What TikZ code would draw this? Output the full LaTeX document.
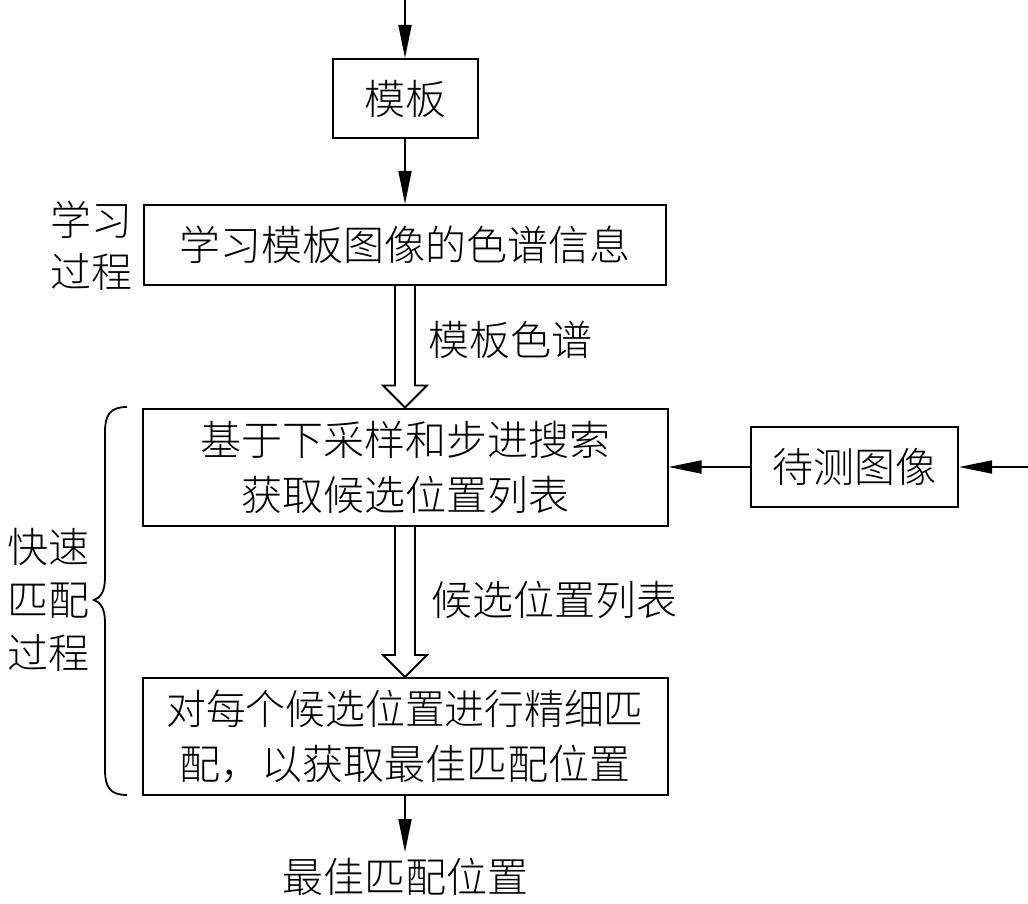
\documentclass[tikz,border=0pt]{standalone}
\usepackage{fontspec}
\setmainfont{Noto Sans CJK SC Light}
\usepackage{graphicx}
\usetikzlibrary{calc}
\usetikzlibrary{arrows.meta}
\tikzset{
	flowbox/.style={draw, line width=2pt, inner sep=0pt, align=center},
	flow/.style={line width=1.8pt, -{Triangle[length=33pt,width=13pt]}},
	hollow/.style={line width=1.8pt},
	sidetext/.style={inner sep=0pt, align=center},
}
\newcommand{\hollowarrow}[2]{%
	\draw[hollow] ($ (#1.south) + (-10,0) $) -- ($ (#2.north) + (-10,-22) $) -- ($ (#2.north) + (-22,-22) $) -- (#2.north) -- ($ (#2.north) + (22,-22) $) -- ($ (#2.north) + (10,-22) $) -- ($ (#1.south) + (10,0) $);
}

\begin{document}
\begin{tikzpicture}[x=1pt,y=-1pt,font=\fontsize{41}{55}\selectfont]
		\useasboundingbox (0,0) rectangle (1028,904);
		\coordinate (in) at (405,0);
		\coordinate (imgin) at (1032,467);
		% main column
		\node[flowbox,minimum width=145pt,minimum height=79pt] (tmpl) at (405,98.5) {模板};
		\node[flowbox,minimum width=522pt,minimum height=80pt] (learn) at (405,245) {学习模板图像的色谱信息};
		\node[flowbox,minimum width=525pt,minimum height=117pt] (search) at (405,467) {基于下采样和步进搜索\\获取候选位置列表};
		\node[flowbox,minimum width=525pt,minimum height=117pt] (match) at (405,736.5) {\scalebox{0.97}[1]{对每个候选位置进行精细匹}\\配，以获取最佳匹配位置};
		\node[sidetext,inner ysep=6pt] (result) at (405,877) {最佳匹配位置};
		\node[flowbox,minimum width=207pt,minimum height=80pt] (test) at (854.5,467) {待测图像};
		% side labels
		\node[sidetext,font=\fontsize{41}{52}\selectfont] (learnlbl) at (91,246) {学习\\过程};
		\node[sidetext,font=\fontsize{41}{53}\selectfont] (fastlbl) at (48,600) {快速\\匹配\\过程};
		\node[sidetext,anchor=west] (tmplspec) at (428,340) {模板色谱};
		\node[sidetext,anchor=west] (candlist) at (431,600) {候选位置列表};
		% connectors
		\draw[flow] (in) -- (tmpl.north);
		\draw[flow] (tmpl.south) -- (learn.north);
		\hollowarrow{learn}{search}
		\hollowarrow{search}{match}
		\draw[flow] (match.south) -- (result.north);
		\draw[flow] (imgin) -- (test.east);
		\draw[flow] (test.west) -- (search.east);
		% brace
		\draw[line width=1.8pt] (127,407) .. controls (110,407) and (105,415) .. (105,432) -- (105,578) .. controls (105,592) and (100,598) .. (94,600) .. controls (100,602) and (105,608) .. (105,622) -- (105,770) .. controls (105,787) and (110,795) .. (127,795);
	\end{tikzpicture}
\end{document}
